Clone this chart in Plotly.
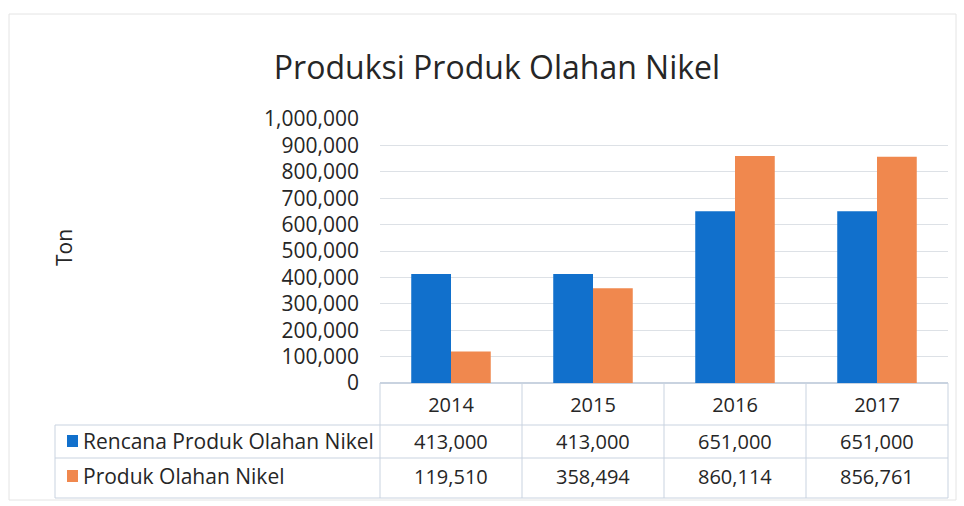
import plotly.graph_objects as go

years = ["2014", "2015", "2016", "2017"]
rencana = [413000, 413000, 651000, 651000]
produksi = [119510, 358494, 860114, 856761]
series_names = ["Rencana Produk Olahan Nikel", "Produk Olahan Nikel"]
colors = ["#1170CC", "#F0884E"]
tick_vals = list(range(0, 1000001, 100000))
tick_text = [f"{v:,}" for v in tick_vals]

W, H = 964, 506
L, R, T, B = 380, 16, 119, 123
pw, ph = W - L - R, H - T - B


def px(x):
    return (x - L) / pw


def py(y):
    return (H - B - y) / ph


FONT = "Open Sans"
TXT = "#262626"
fig = go.Figure()
for name, vals, c in zip(series_names, [rencana, produksi], colors):
    fig.add_trace(go.Bar(x=years, y=vals, name=name, marker_color=c, marker_line_width=0))

grid = "#DDE1E6"
tbl = "#C9D3E0"
shapes = []
# outer frame
shapes.append(dict(type="rect", xref="paper", yref="paper", x0=px(9), x1=px(956), y0=py(500), y1=py(14),
                   line=dict(color="#E4E4E4", width=1)))
# table lines
for i in range(5):
    xv = i / 4
    shapes.append(dict(type="line", xref="paper", yref="paper", x0=xv, x1=xv, y0=0, y1=py(498),
                       line=dict(color=tbl, width=1)))
for yv in [425, 458, 498]:
    shapes.append(dict(type="line", xref="paper", yref="paper", x0=px(55), x1=1, y0=py(yv), y1=py(yv),
                       line=dict(color=tbl, width=1)))
shapes.append(dict(type="line", xref="paper", yref="paper", x0=px(55), x1=px(55), y0=py(425), y1=py(498),
                   line=dict(color=tbl, width=1)))
# legend keys
row_centers = [441, 476]
for c, yc in zip(colors, row_centers):
    shapes.append(dict(type="rect", xref="paper", yref="paper", x0=px(67), x1=px(78), y0=py(yc + 6), y1=py(yc - 6),
                       fillcolor=c, line=dict(width=0)))

annotations = []
for name, yc in zip(series_names, row_centers):
    annotations.append(dict(x=px(81), y=py(yc), xref="paper", yref="paper", text=name, showarrow=False,
                            xanchor="left", yanchor="middle", font=dict(family=FONT, size=21, color=TXT)))
for vals, yc in zip([rencana, produksi], row_centers):
    for i, v in enumerate(vals):
        annotations.append(dict(x=(i + 0.5) / 4, y=py(yc), xref="paper", yref="paper", text=f"{v:,}",
                                showarrow=False, xanchor="center", yanchor="middle",
                                font=dict(family=FONT, size=20, color=TXT)))
annotations.append(dict(x=px(64), y=py(248), xref="paper", yref="paper", text="Ton", textangle=-90,
                        showarrow=False, xanchor="center", yanchor="middle",
                        font=dict(family=FONT, size=21, color=TXT)))

fig.update_layout(
    width=W, height=H,
    margin=dict(l=L, r=R, t=T, b=B, autoexpand=False),
    paper_bgcolor="white", plot_bgcolor="white",
    title=dict(text="Produksi Produk Olahan Nikel", x=497 / W, xanchor="center",
               y=1 - 68 / H, yanchor="middle", font=dict(family=FONT, size=32, color=TXT)),
    showlegend=False,
    bargap=0.44, bargroupgap=0,
    xaxis=dict(type="category", range=[-0.5, 3.5], showgrid=False, zeroline=False, showline=False,
               ticks="", tickfont=dict(family=FONT, size=20, color=TXT), ticklabelstandoff=8),
    yaxis=dict(range=[0, 1000000], tickvals=tick_vals, ticktext=tick_text, showgrid=True, gridcolor=grid,
               gridwidth=1, zeroline=True, zerolinecolor=tbl, showline=False,
               tickfont=dict(family=FONT, size=21, color=TXT), ticklabelstandoff=20),
    shapes=shapes, annotations=annotations,
)
fig.write_html("out.html", config={"displayModeBar": False},
               post_script="document.body.style.margin='0';document.body.style.overflow='hidden';")
